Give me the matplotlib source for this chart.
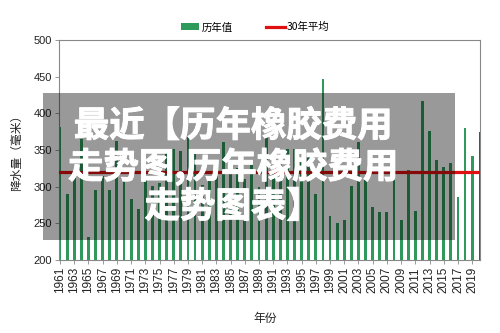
import matplotlib
matplotlib.use("Agg")
import matplotlib.pyplot as plt
from matplotlib.patches import Rectangle, Patch
from matplotlib.lines import Line2D
import matplotlib.patheffects as pe

years = list(range(1961, 2021))
values = [381, 290, 312, 365, 232, 295, 315, 295, 362, 312,
          283, 270, 312, 301, 305, 348, 351, 349, 369, 345,
          302, 308, 330, 361, 335, 325, 310, 330, 300, 372,
          320, 340, 352, 352, 341, 345, 290, 447, 260, 251,
          254, 301, 361, 310, 272, 266, 265, 313, 254, 323,
          267, 417, 376, 337, 327, 332, 286, 380, 342, 374]
avg30 = 320
tick_years = list(range(1961, 2020, 2))
legend_labels = ["历年值", "30年平均"]
title_text = "最近【历年橡胶费用\n走势图,历年橡胶费用\n走势图表】"
ylabel = "降水量（毫米）"
xlabel = "年份"

green = "#2e9a5c"
red = "#e01010"
cjk = ["Noto Sans CJK SC", "DejaVu Sans"]
narrow = ["Liberation Sans Narrow", "Liberation Sans", "DejaVu Sans"]

fig = plt.figure(figsize=(5, 3.33), dpi=100)
ax = fig.add_axes([0.118, 0.219, 0.842, 0.661])

colors = [green] * (len(years) - 1) + [red]
widths = [0.4] * (len(years) - 1) + [0.2]
ax.bar(years, [v - 200 for v in values], bottom=200, width=widths, color=colors, zorder=2)
ax.axhline(avg30, color=red, lw=2.3, zorder=3)

ax.set_ylim(200, 500)
ax.set_xlim(1960.85, 2020.1)
ax.set_yticks(range(200, 501, 50))
ax.set_xticks(tick_years)
ax.set_xticklabels([str(y) for y in tick_years], rotation=90,
                   family=["Liberation Sans", "DejaVu Sans"], fontsize=8.5, color="#222222")
for lab in ax.get_yticklabels():
    lab.set_family(narrow)
    lab.set_fontsize(8)
    lab.set_color("#222222")
ax.tick_params(axis="both", length=3, width=0.6, color="#888888", pad=2)
for s in ax.spines.values():
    s.set_color("#888888")
    s.set_linewidth(0.8)

ax.set_ylabel(ylabel, family=cjk, fontsize=8.5, color="#222222", labelpad=8)
fig.text(0.53, 0.045, xlabel, family=cjk, fontsize=8.5, color="#222222", ha="center", va="center")

handles = [Patch(facecolor=green, edgecolor="none"),
           Line2D([0], [0], color=red, lw=2.3)]
fig.legend(handles, legend_labels, loc="center", bbox_to_anchor=(0.51, 0.918), ncol=2,
           frameon=False, prop={"family": cjk, "size": 7.5}, handlelength=1.8,
           handleheight=0.6, columnspacing=3.2, handletextpad=0.2)

fig.patches.append(Rectangle((0.086, 0.279), 0.824, 0.441, transform=fig.transFigure,
                             facecolor="black", alpha=0.4, edgecolor="none", zorder=5))
fig.text(0.466, 0.5, title_text, family=cjk, fontsize=25.5, fontweight=900, color="white",
         ha="center", va="center", linespacing=1.13, zorder=6,
         path_effects=[pe.withStroke(linewidth=0.7, foreground="white")])

fig.savefig("out.png", dpi=100)
